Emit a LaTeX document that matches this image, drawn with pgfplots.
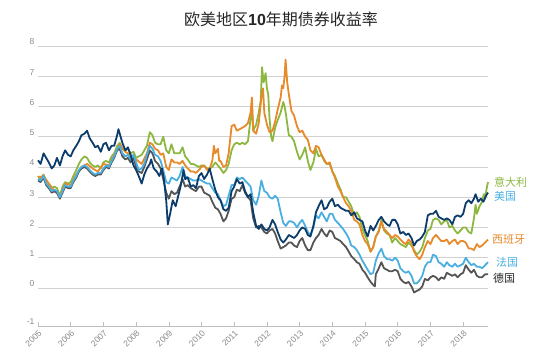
\documentclass[border=0pt]{standalone}
\usepackage{pgfplots}
\pgfplotsset{compat=1.18}
\usepackage{fontspec}
\setmainfont{Liberation Sans}
\newfontfamily\cjk{Noto Sans CJK SC}
\definecolor{cUS}{HTML}{0B3C6A}
\definecolor{cIT}{HTML}{8CB840}
\definecolor{cES}{HTML}{E8892A}
\definecolor{cFR}{HTML}{4AAFE0}
\definecolor{cDE}{HTML}{555555}
\definecolor{cTick}{HTML}{8A8A8A}
\begin{document}
\begin{tikzpicture}[x=1pt,y=1pt]
\useasboundingbox (-38,-30) rectangle (521,326);
\begin{axis}[at={(0,0)}, anchor=south west, scale only axis,
  width=450pt, height=280pt,
  xmin=2005, xmax=2018.76, ymin=-1.26, ymax=8,
  axis x line*=bottom, axis y line*=left,
  x axis line style={draw=black!25, line width=0.6pt},
  y axis line style={draw=none},
  ytick={-1.26,0,1,2,3,4,5,6,7,8},
  yticklabels={-1,0,1,2,3,4,5,6,7,8},
  ytick style={draw=none},
  ymajorgrids, grid style={draw=black!18, line width=0.6pt},
  xtick={2005,2006,...,2018},
  xticklabels={2005,2006,2007,2008,2009,2010,2011,2012,2013,2014,2015,2016,2017,2018},
  xtick align=inside, major tick length=4pt,
  xtick style={draw=black!25, line width=0.6pt},
  /pgf/number format/assume math mode=true,
  yticklabel style={font=\fontsize{8.5}{9}\selectfont, text=cTick, yshift=4pt},
  xticklabel style={font=\fontsize{8.5}{9}\selectfont, text=cTick, yshift=-5pt, xshift=3pt, rotate=45, anchor=east, inner sep=1pt},
  clip=false,
  every axis plot/.append style={line width=1.8pt, line join=round, mark=none},
]
% Italy
\addplot[cIT] coordinates {
(2005.00,3.70)(2005.08,3.60)(2005.17,3.75)(2005.25,3.55)(2005.33,3.45)(2005.42,3.30)(2005.50,3.35)(2005.58,3.30)(2005.67,3.05)(2005.75,3.35)(2005.83,3.50)(2005.92,3.45)
(2006.00,3.50)(2006.08,3.70)(2006.17,3.90)(2006.25,4.10)(2006.33,4.25)(2006.42,4.35)(2006.50,4.30)(2006.58,4.15)(2006.67,4.05)(2006.75,4.00)(2006.83,4.05)(2006.92,3.95)
(2007.00,4.15)(2007.08,4.20)(2007.17,4.15)(2007.25,4.35)(2007.33,4.45)(2007.42,4.70)(2007.50,4.80)(2007.58,4.60)(2007.67,4.55)(2007.75,4.60)(2007.83,4.45)(2007.92,4.50)
(2008.00,4.30)(2008.08,4.35)(2008.17,4.40)(2008.25,4.55)(2008.33,4.70)(2008.42,5.15)(2008.50,5.05)(2008.58,4.80)(2008.67,4.75)(2008.75,4.75)(2008.83,5.00)(2008.92,4.55)
(2009.00,4.45)(2009.08,4.75)(2009.17,4.45)(2009.25,4.45)(2009.33,4.45)(2009.42,4.65)(2009.50,4.35)(2009.58,4.25)(2009.67,4.10)(2009.75,4.10)(2009.83,4.05)(2009.92,4.00)
(2010.00,4.05)(2010.08,4.05)(2010.17,3.95)(2010.25,3.95)(2010.33,4.00)(2010.42,4.15)(2010.50,4.05)(2010.58,3.95)(2010.67,3.80)(2010.75,3.90)(2010.83,4.10)(2010.92,4.55)
(2011.00,4.75)(2011.08,4.80)(2011.17,4.75)(2011.25,4.80)(2011.33,4.75)(2011.42,4.85)(2011.50,5.60)(2011.54,6.05)(2011.58,5.20)(2011.67,5.40)(2011.75,5.80)(2011.81,6.20)
(2011.85,7.30)(2011.90,6.80)(2011.96,7.10)(2012.00,6.60)(2012.04,6.40)(2012.08,5.60)(2012.13,5.00)(2012.17,4.85)(2012.25,5.30)(2012.33,5.55)(2012.42,5.80)(2012.50,6.15)
(2012.54,6.00)(2012.58,5.75)(2012.67,5.05)(2012.75,5.00)(2012.83,4.85)(2012.92,4.50)(2013.00,4.25)(2013.08,4.40)(2013.17,4.65)(2013.25,4.20)(2013.33,3.90)(2013.42,4.15)
(2013.50,4.60)(2013.58,4.35)(2013.67,4.40)(2013.75,4.20)(2013.83,4.10)(2013.92,4.10)(2014.00,3.85)(2014.08,3.70)(2014.17,3.45)(2014.25,3.25)(2014.33,3.00)(2014.42,3.00)
(2014.50,2.85)(2014.58,2.70)(2014.67,2.40)(2014.75,2.50)(2014.83,2.35)(2014.92,1.95)(2015.00,1.75)(2015.08,1.55)(2015.17,1.20)(2015.25,1.35)(2015.33,1.70)(2015.42,1.90)
(2015.50,2.25)(2015.58,1.90)(2015.67,1.80)(2015.75,1.75)(2015.83,1.50)(2015.92,1.65)(2016.00,1.55)(2016.08,1.45)(2016.17,1.40)(2016.25,1.35)(2016.33,1.50)(2016.42,1.40)
(2016.50,1.25)(2016.58,1.10)(2016.67,1.20)(2016.75,1.35)(2016.83,1.65)(2016.92,1.90)(2017.00,1.95)(2017.08,2.25)(2017.17,2.30)(2017.25,2.25)(2017.33,2.10)(2017.42,2.20)
(2017.50,2.25)(2017.58,2.00)(2017.67,2.05)(2017.75,1.90)(2017.83,1.80)(2017.92,1.90)(2018.00,2.00)(2018.08,2.00)(2018.17,1.85)(2018.25,1.80)(2018.33,2.30)(2018.38,2.75)
(2018.42,2.45)(2018.50,2.70)(2018.58,2.85)(2018.63,3.10)(2018.67,2.95)(2018.72,3.30)(2018.76,3.50)
};
% Spain
\addplot[cES] coordinates {
(2005.00,3.65)(2005.17,3.70)(2005.33,3.45)(2005.50,3.20)(2005.67,3.05)(2005.83,3.45)(2006.00,3.40)(2006.17,3.75)(2006.33,4.00)(2006.50,4.10)(2006.67,3.95)(2006.83,3.85)
(2007.00,4.10)(2007.17,4.05)(2007.33,4.40)(2007.50,4.75)(2007.67,4.50)(2007.83,4.40)(2008.00,4.25)(2008.17,4.10)(2008.33,4.45)(2008.42,4.80)(2008.50,4.75)(2008.58,4.60)
(2008.67,4.55)(2008.75,4.40)(2008.83,4.45)(2008.92,4.00)(2009.00,3.90)(2009.08,4.25)(2009.17,4.15)(2009.25,4.15)(2009.33,4.10)(2009.42,4.20)(2009.50,4.05)(2009.58,3.95)
(2009.67,3.85)(2009.75,3.85)(2009.83,3.80)(2009.92,3.90)(2010.00,4.00)(2010.08,4.05)(2010.17,3.90)(2010.25,3.95)(2010.33,4.20)(2010.38,4.70)(2010.42,4.45)(2010.50,4.60)
(2010.54,4.20)(2010.58,4.20)(2010.67,4.00)(2010.75,4.05)(2010.83,4.45)(2010.92,5.35)(2011.00,5.40)(2011.08,5.20)(2011.17,5.25)(2011.25,5.30)(2011.33,5.35)(2011.42,5.45)
(2011.50,5.80)(2011.54,6.30)(2011.58,5.20)(2011.67,5.10)(2011.75,5.45)(2011.83,6.30)(2011.88,6.60)(2011.92,5.80)(2012.00,5.40)(2012.08,5.15)(2012.17,5.20)(2012.25,5.50)
(2012.33,5.90)(2012.42,6.30)(2012.46,6.70)(2012.50,6.60)(2012.54,7.00)(2012.57,7.55)(2012.62,6.80)(2012.67,6.40)(2012.75,5.85)(2012.83,5.70)(2012.92,5.35)(2013.00,5.15)
(2013.08,5.20)(2013.17,5.00)(2013.25,4.90)(2013.33,4.55)(2013.42,4.45)(2013.50,4.70)(2013.58,4.65)(2013.67,4.40)(2013.75,4.25)(2013.83,4.10)(2013.92,4.15)(2014.00,3.85)
(2014.08,3.65)(2014.17,3.35)(2014.25,3.20)(2014.33,3.00)(2014.42,2.80)(2014.50,2.70)(2014.58,2.55)(2014.67,2.25)(2014.75,2.20)(2014.83,2.10)(2014.92,1.75)(2015.00,1.55)
(2015.08,1.45)(2015.17,1.20)(2015.25,1.35)(2015.33,1.70)(2015.42,1.85)(2015.50,2.20)(2015.58,1.95)(2015.67,1.85)(2015.75,1.75)(2015.83,1.65)(2015.92,1.75)(2016.00,1.70)
(2016.08,1.60)(2016.17,1.50)(2016.25,1.45)(2016.33,1.60)(2016.42,1.50)(2016.50,1.20)(2016.58,1.05)(2016.67,0.95)(2016.75,1.10)(2016.83,1.35)(2016.92,1.55)(2017.00,1.45)
(2017.08,1.65)(2017.17,1.75)(2017.25,1.65)(2017.33,1.55)(2017.42,1.55)(2017.50,1.60)(2017.58,1.45)(2017.67,1.55)(2017.75,1.60)(2017.83,1.45)(2017.92,1.55)(2018.00,1.55)
(2018.08,1.50)(2018.17,1.30)(2018.25,1.30)(2018.33,1.25)(2018.42,1.45)(2018.50,1.35)(2018.58,1.40)(2018.67,1.50)(2018.76,1.60)
};
% Germany
\addplot[cDE] coordinates {
(2005.00,3.55)(2005.08,3.50)(2005.17,3.65)(2005.25,3.40)(2005.33,3.30)(2005.42,3.15)(2005.50,3.20)(2005.58,3.15)(2005.67,2.95)(2005.75,3.15)(2005.83,3.35)(2005.92,3.30)
(2006.00,3.30)(2006.08,3.50)(2006.17,3.65)(2006.25,3.85)(2006.33,3.95)(2006.42,4.00)(2006.50,3.95)(2006.58,3.85)(2006.67,3.75)(2006.75,3.70)(2006.83,3.75)(2006.92,3.75)
(2007.00,3.90)(2007.08,4.00)(2007.17,3.95)(2007.25,4.15)(2007.33,4.30)(2007.42,4.55)(2007.50,4.60)(2007.58,4.35)(2007.67,4.25)(2007.75,4.30)(2007.83,4.15)(2007.92,4.30)
(2008.00,4.00)(2008.08,3.85)(2008.17,3.80)(2008.25,4.00)(2008.33,4.25)(2008.42,4.55)(2008.50,4.45)(2008.58,4.20)(2008.67,4.10)(2008.75,3.95)(2008.83,3.60)(2008.92,3.15)
(2009.00,2.95)(2009.08,3.20)(2009.17,3.10)(2009.25,3.15)(2009.33,3.35)(2009.42,3.60)(2009.50,3.35)(2009.58,3.40)(2009.67,3.30)(2009.75,3.25)(2009.83,3.20)(2009.92,3.35)
(2010.00,3.35)(2010.08,3.15)(2010.17,3.10)(2010.25,3.05)(2010.33,2.85)(2010.42,2.65)(2010.50,2.60)(2010.58,2.45)(2010.67,2.20)(2010.75,2.30)(2010.83,2.55)(2010.92,2.95)
(2011.00,3.00)(2011.08,3.25)(2011.17,3.20)(2011.25,3.40)(2011.33,3.15)(2011.42,3.00)(2011.50,2.90)(2011.58,2.30)(2011.67,2.00)(2011.75,2.05)(2011.83,2.00)(2011.92,1.85)
(2012.00,1.80)(2012.08,1.90)(2012.17,1.95)(2012.25,1.80)(2012.33,1.55)(2012.42,1.30)(2012.50,1.35)(2012.58,1.40)(2012.67,1.50)(2012.75,1.50)(2012.83,1.40)(2012.92,1.35)
(2013.00,1.55)(2013.08,1.65)(2013.17,1.40)(2013.25,1.25)(2013.33,1.25)(2013.42,1.50)(2013.50,1.65)(2013.58,1.75)(2013.67,1.95)(2013.75,1.80)(2013.83,1.70)(2013.92,1.90)
(2014.00,1.85)(2014.08,1.65)(2014.17,1.60)(2014.25,1.55)(2014.33,1.45)(2014.42,1.35)(2014.50,1.20)(2014.58,1.05)(2014.67,0.95)(2014.75,0.85)(2014.83,0.80)(2014.92,0.60)
(2015.00,0.50)(2015.08,0.35)(2015.17,0.20)(2015.25,0.10)(2015.30,0.05)(2015.33,0.45)(2015.42,0.65)(2015.50,0.85)(2015.58,0.65)(2015.67,0.60)(2015.75,0.55)(2015.83,0.55)
(2015.92,0.60)(2016.00,0.55)(2016.08,0.30)(2016.17,0.20)(2016.25,0.15)(2016.33,0.20)(2016.42,0.05)(2016.50,-0.15)(2016.58,-0.10)(2016.67,-0.05)(2016.75,0.05)(2016.83,0.30)
(2016.92,0.25)(2017.00,0.35)(2017.08,0.40)(2017.17,0.35)(2017.25,0.25)(2017.33,0.35)(2017.42,0.30)(2017.50,0.50)(2017.58,0.45)(2017.67,0.40)(2017.75,0.45)(2017.83,0.35)
(2017.92,0.45)(2018.00,0.50)(2018.08,0.75)(2018.17,0.60)(2018.25,0.50)(2018.33,0.60)(2018.42,0.40)(2018.50,0.35)(2018.58,0.35)(2018.67,0.45)(2018.76,0.45)
};
% France
\addplot[cFR] coordinates {
(2005.00,3.60)(2005.08,3.55)(2005.17,3.70)(2005.25,3.45)(2005.33,3.35)(2005.42,3.20)(2005.50,3.25)(2005.58,3.20)(2005.67,3.00)(2005.75,3.20)(2005.83,3.40)(2005.92,3.35)
(2006.00,3.35)(2006.08,3.55)(2006.17,3.70)(2006.25,3.90)(2006.33,4.00)(2006.42,4.05)(2006.50,4.00)(2006.58,3.90)(2006.67,3.80)(2006.75,3.75)(2006.83,3.80)(2006.92,3.80)
(2007.00,3.95)(2007.08,4.05)(2007.17,4.00)(2007.25,4.20)(2007.33,4.35)(2007.42,4.60)(2007.50,4.70)(2007.58,4.45)(2007.67,4.35)(2007.75,4.40)(2007.83,4.25)(2007.92,4.40)
(2008.00,4.15)(2008.08,3.90)(2008.17,3.95)(2008.25,4.10)(2008.33,4.40)(2008.42,4.70)(2008.50,4.60)(2008.58,4.40)(2008.67,4.35)(2008.75,4.20)(2008.83,3.90)(2008.92,3.50)
(2009.00,3.45)(2009.08,3.65)(2009.17,3.60)(2009.25,3.55)(2009.33,3.70)(2009.42,4.00)(2009.50,3.70)(2009.58,3.65)(2009.67,3.60)(2009.75,3.55)(2009.83,3.55)(2009.92,3.60)
(2010.00,3.55)(2010.08,3.50)(2010.17,3.45)(2010.25,3.45)(2010.33,3.30)(2010.42,3.15)(2010.50,3.10)(2010.58,2.90)(2010.67,2.70)(2010.75,2.75)(2010.83,3.05)(2010.92,3.40)
(2011.00,3.40)(2011.08,3.65)(2011.17,3.60)(2011.25,3.65)(2011.33,3.55)(2011.42,3.45)(2011.50,3.35)(2011.58,2.90)(2011.67,2.75)(2011.75,3.05)(2011.83,3.55)(2011.92,3.20)
(2012.00,3.15)(2012.08,3.00)(2012.17,2.95)(2012.25,3.05)(2012.33,2.95)(2012.42,2.50)(2012.50,2.15)(2012.58,2.05)(2012.67,2.20)(2012.75,2.20)(2012.83,2.15)(2012.92,2.00)
(2013.00,2.15)(2013.08,2.25)(2013.17,2.05)(2013.25,1.85)(2013.33,1.75)(2013.42,2.00)(2013.50,2.40)(2013.58,2.30)(2013.67,2.50)(2013.75,2.35)(2013.83,2.20)(2013.92,2.45)
(2014.00,2.45)(2014.08,2.25)(2014.17,2.15)(2014.25,2.05)(2014.33,1.95)(2014.42,1.80)(2014.50,1.65)(2014.58,1.40)(2014.67,1.35)(2014.75,1.25)(2014.83,1.10)(2014.92,0.90)
(2015.00,0.75)(2015.08,0.60)(2015.17,0.45)(2015.25,0.50)(2015.33,0.90)(2015.42,1.15)(2015.50,1.30)(2015.58,1.05)(2015.67,0.95)(2015.75,0.95)(2015.83,0.90)(2015.92,1.00)
(2016.00,0.90)(2016.08,0.65)(2016.17,0.55)(2016.25,0.50)(2016.33,0.55)(2016.42,0.40)(2016.50,0.15)(2016.58,0.15)(2016.67,0.25)(2016.75,0.40)(2016.83,0.70)(2016.92,0.85)
(2017.00,0.85)(2017.08,1.10)(2017.17,1.05)(2017.25,0.85)(2017.33,0.80)(2017.42,0.70)(2017.50,0.85)(2017.58,0.75)(2017.67,0.70)(2017.75,0.80)(2017.83,0.70)(2017.92,0.75)
(2018.00,0.80)(2018.08,1.00)(2018.17,0.85)(2018.25,0.75)(2018.33,0.80)(2018.42,0.70)(2018.50,0.70)(2018.58,0.65)(2018.67,0.75)(2018.76,0.85)
};
% US
\addplot[cUS] coordinates {
(2005.00,4.22)(2005.08,4.10)(2005.17,4.45)(2005.25,4.30)(2005.33,4.15)(2005.42,3.95)(2005.50,4.05)(2005.58,4.30)(2005.67,4.05)(2005.75,4.35)(2005.83,4.55)(2005.92,4.40)
(2006.00,4.35)(2006.08,4.55)(2006.17,4.70)(2006.25,4.85)(2006.33,5.05)(2006.42,5.10)(2006.50,5.20)(2006.58,4.95)(2006.67,4.80)(2006.75,4.65)(2006.83,4.70)(2006.92,4.50)
(2007.00,4.75)(2007.08,4.80)(2007.17,4.55)(2007.25,4.70)(2007.33,4.70)(2007.42,5.05)(2007.46,5.25)(2007.50,5.10)(2007.58,4.80)(2007.67,4.55)(2007.75,4.65)(2007.83,4.40)
(2007.92,4.05)(2008.00,3.90)(2008.08,3.70)(2008.17,3.45)(2008.25,3.75)(2008.33,3.95)(2008.42,4.10)(2008.46,4.25)(2008.54,3.95)(2008.63,3.85)(2008.71,3.70)(2008.79,3.95)
(2008.85,3.60)(2008.92,2.90)(2008.97,2.10)(2009.04,2.45)(2009.12,2.90)(2009.21,2.70)(2009.29,3.05)(2009.37,3.40)(2009.45,3.90)(2009.50,3.60)(2009.58,3.65)(2009.67,3.35)
(2009.75,3.40)(2009.83,3.30)(2009.92,3.70)(2010.00,3.80)(2010.08,3.60)(2010.17,3.75)(2010.25,3.95)(2010.33,3.60)(2010.42,3.25)(2010.50,3.00)(2010.58,2.90)(2010.67,2.60)
(2010.75,2.55)(2010.83,2.65)(2010.92,3.20)(2011.00,3.35)(2011.08,3.60)(2011.17,3.45)(2011.25,3.50)(2011.33,3.20)(2011.42,3.00)(2011.50,3.10)(2011.58,2.50)(2011.67,2.05)
(2011.75,1.95)(2011.83,2.10)(2011.92,1.95)(2012.00,1.90)(2012.08,2.00)(2012.17,2.25)(2012.25,2.10)(2012.33,1.85)(2012.42,1.60)(2012.50,1.50)(2012.58,1.60)(2012.67,1.75)
(2012.75,1.70)(2012.83,1.65)(2012.92,1.75)(2013.00,1.90)(2013.08,2.00)(2013.17,1.95)(2013.25,1.75)(2013.33,1.70)(2013.42,2.05)(2013.50,2.50)(2013.58,2.70)(2013.67,2.90)
(2013.75,2.60)(2013.83,2.65)(2013.92,2.85)(2014.00,2.95)(2014.08,2.70)(2014.17,2.75)(2014.25,2.65)(2014.33,2.60)(2014.42,2.55)(2014.50,2.55)(2014.58,2.40)(2014.67,2.50)
(2014.75,2.30)(2014.83,2.25)(2014.92,2.20)(2015.00,1.90)(2015.08,1.70)(2015.17,2.05)(2015.25,1.90)(2015.33,2.05)(2015.42,2.25)(2015.50,2.35)(2015.58,2.20)(2015.67,2.10)
(2015.75,2.05)(2015.83,2.25)(2015.92,2.25)(2016.00,2.10)(2016.08,1.80)(2016.17,1.85)(2016.25,1.75)(2016.33,1.80)(2016.42,1.65)(2016.50,1.40)(2016.58,1.55)(2016.67,1.60)
(2016.75,1.70)(2016.83,1.85)(2016.92,2.40)(2017.00,2.45)(2017.08,2.45)(2017.17,2.55)(2017.25,2.35)(2017.33,2.30)(2017.42,2.25)(2017.50,2.30)(2017.58,2.25)(2017.67,2.10)
(2017.75,2.35)(2017.83,2.40)(2017.92,2.35)(2018.00,2.45)(2018.08,2.80)(2018.17,2.90)(2018.25,2.80)(2018.33,2.95)(2018.38,3.10)(2018.46,2.85)(2018.54,2.95)(2018.62,2.85)
(2018.70,3.05)(2018.76,3.15)
};
\begin{scope}[every node/.style={anchor=west, inner sep=0pt, font=\cjk\fontsize{11}{12}\selectfont}]
\node[text=cIT] at (axis cs:2018.94,3.50) {意大利};
\node[text=cFR] at (axis cs:2018.94,3.04) {美国};
\node[text=cES] at (axis cs:2018.88,1.62) {西班牙};
\node[text=cFR] at (axis cs:2019.00,0.86) {法国};
\node[text=black!85] at (axis cs:2018.91,0.33) {德国};
\end{scope}
\end{axis}
\node[text=black!85, font=\fontsize{16}{18}\selectfont] at (243,307) {\cjk 欧美地区\normalfont\bfseries 10\cjk\mdseries 年期债券收益率};
\end{tikzpicture}
\end{document}
